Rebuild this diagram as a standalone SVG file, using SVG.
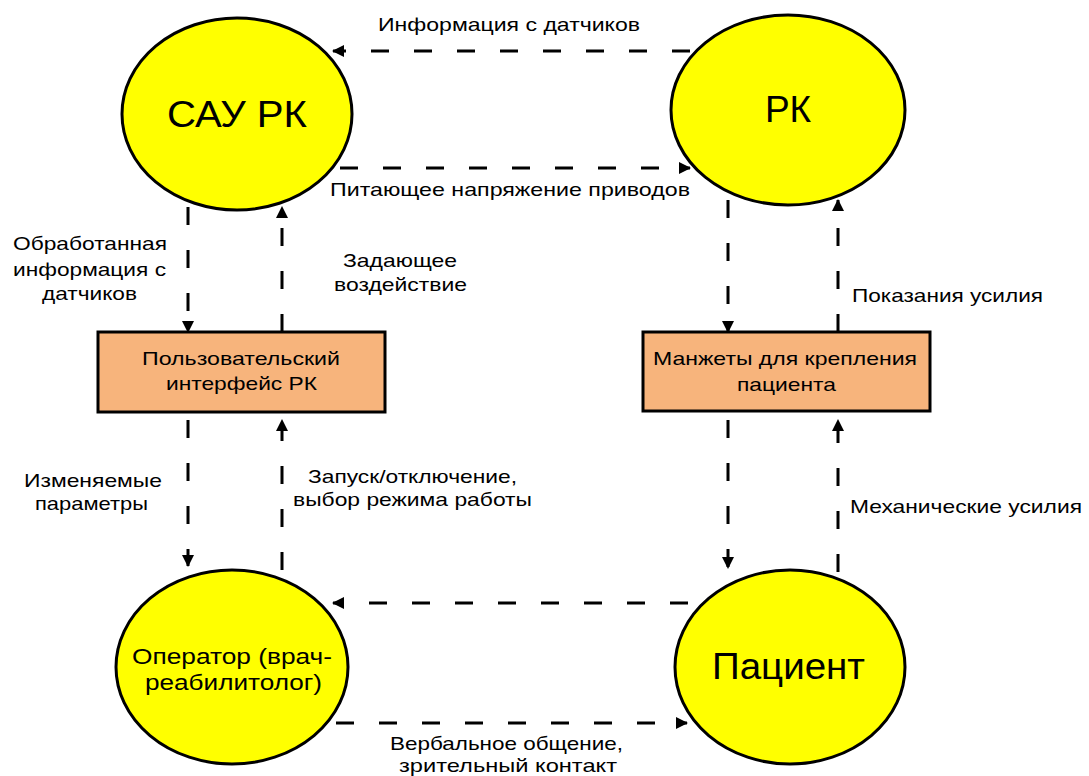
<svg xmlns="http://www.w3.org/2000/svg" width="1089" height="776" viewBox="0 0 1089 776">
<style>
.ell{fill:#ffff00;stroke:#000;stroke-width:3}
.box{fill:#f7b47c;stroke:#000;stroke-width:3}
.c{fill:none;stroke:#000;stroke-width:3;stroke-dasharray:18 25}
text{font-family:"Liberation Sans",Arial,sans-serif;fill:#000}
.big{font-size:37px}
.mid{font-size:22px}
.lbl{font-size:19px}
</style>
<defs>
<marker id="ah" markerWidth="12" markerHeight="12" refX="11" refY="6" orient="auto" markerUnits="userSpaceOnUse">
<path d="M0,0 L12,6 L0,12 Z" fill="#000"/>
</marker>
</defs>
<rect width="1089" height="776" fill="#fff"/>
<g id="n-sau">
<ellipse class="ell" cx="237" cy="114" rx="115" ry="96"/>
<text class="big" x="167" y="127" textLength="140" lengthAdjust="spacingAndGlyphs">САУ РК</text>
</g>
<g id="n-rk">
<ellipse class="ell" cx="788" cy="110" rx="117" ry="95"/>
<text class="big" x="788" y="122" text-anchor="middle">РК</text>
</g>
<g id="n-ui">
<rect class="box" x="98" y="332" width="287" height="80"/>
<text class="lbl" x="142" y="365" textLength="198" lengthAdjust="spacingAndGlyphs">Пользовательский</text>
<text class="lbl" x="166" y="390" textLength="151" lengthAdjust="spacingAndGlyphs">интерфейс РК</text>
</g>
<g id="n-cuffs">
<rect class="box" x="643" y="332" width="287" height="79"/>
<text class="lbl" x="653" y="365" textLength="264" lengthAdjust="spacingAndGlyphs">Манжеты для крепления</text>
<text class="lbl" x="737" y="391" textLength="99" lengthAdjust="spacingAndGlyphs">пациента</text>
</g>
<g id="n-op">
<ellipse class="ell" cx="232" cy="667" rx="116" ry="97"/>
<text class="mid" x="132" y="664" textLength="200" lengthAdjust="spacingAndGlyphs">Оператор (врач-</text>
<text class="mid" x="145" y="690" textLength="177" lengthAdjust="spacingAndGlyphs">реабилитолог)</text>
</g>
<g id="n-pat">
<ellipse class="ell" cx="790" cy="667" rx="115" ry="97"/>
<text class="big" x="712" y="679" textLength="153" lengthAdjust="spacingAndGlyphs">Пациент</text>
</g>
<g id="connectors">
<line class="c" x1="690" y1="51" x2="333" y2="51" marker-end="url(#ah)"/>
<line class="c" x1="340" y1="168" x2="690" y2="168" marker-end="url(#ah)"/>
<line class="c" x1="188" y1="207" x2="188" y2="332" marker-end="url(#ah)"/>
<line class="c" x1="282" y1="332" x2="282" y2="207" marker-end="url(#ah)"/>
<line class="c" x1="728" y1="200" x2="728" y2="332" marker-end="url(#ah)"/>
<line class="c" x1="838" y1="332" x2="838" y2="200" marker-end="url(#ah)"/>
<line class="c" x1="188" y1="420" x2="188" y2="566" marker-end="url(#ah)"/>
<line class="c" x1="282" y1="570" x2="282" y2="420" marker-end="url(#ah)"/>
<line class="c" x1="728" y1="420" x2="728" y2="568" marker-end="url(#ah)"/>
<line class="c" x1="838" y1="572" x2="838" y2="420" marker-end="url(#ah)"/>
<line class="c" x1="688" y1="603" x2="333" y2="603" marker-end="url(#ah)"/>
<line class="c" x1="336" y1="723" x2="687" y2="723" marker-end="url(#ah)"/>
<text class="lbl" x="378" y="31" textLength="262" lengthAdjust="spacingAndGlyphs">Информация с датчиков</text>
<text class="lbl" x="330" y="196" textLength="360" lengthAdjust="spacingAndGlyphs">Питающее напряжение приводов</text>
<text class="lbl" x="13" y="250" textLength="154" lengthAdjust="spacingAndGlyphs">Обработанная</text>
<text class="lbl" x="13" y="276" textLength="153" lengthAdjust="spacingAndGlyphs">информация с</text>
<text class="lbl" x="42" y="300" textLength="95" lengthAdjust="spacingAndGlyphs">датчиков</text>
<text class="lbl" x="343" y="267" textLength="114" lengthAdjust="spacingAndGlyphs">Задающее</text>
<text class="lbl" x="334" y="291" textLength="133" lengthAdjust="spacingAndGlyphs">воздействие</text>
<text class="lbl" x="852" y="302" textLength="191" lengthAdjust="spacingAndGlyphs">Показания усилия</text>
<text class="lbl" x="24" y="487" textLength="138" lengthAdjust="spacingAndGlyphs">Изменяемые</text>
<text class="lbl" x="35" y="510" textLength="113" lengthAdjust="spacingAndGlyphs">параметры</text>
<text class="lbl" x="308" y="483" textLength="209" lengthAdjust="spacingAndGlyphs">Запуск/отключение,</text>
<text class="lbl" x="293" y="506" textLength="239" lengthAdjust="spacingAndGlyphs">выбор режима работы</text>
<text class="lbl" x="850" y="513" textLength="232" lengthAdjust="spacingAndGlyphs">Механические усилия</text>
<text class="lbl" x="390" y="750" textLength="233" lengthAdjust="spacingAndGlyphs">Вербальное общение,</text>
<text class="lbl" x="399" y="772" textLength="218" lengthAdjust="spacingAndGlyphs">зрительный контакт</text>
</g>
</svg>
